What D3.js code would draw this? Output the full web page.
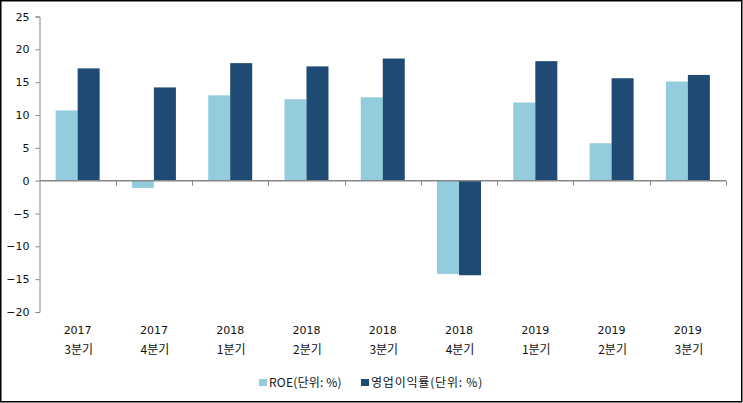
<!DOCTYPE html>
<html>
<head>
<meta charset="utf-8">
<script src="https://cdn.jsdelivr.net/npm/d3@7"></script>
<style>
  body { margin: 0; background: #fff; }
  svg { display: block; }
  text { font-family: "DejaVu Sans", Verdana, "Noto Sans CJK KR", sans-serif; font-size: 11px; fill: #111; }
</style>
</head>
<body>
<svg id="chart" width="743" height="403"></svg>
<script>
// 분기 (연도 / 분기)
var years = ['2017', '2017', '2018', '2018', '2018', '2018', '2019', '2019', '2019'];
var quarters = ['3분기', '4분기', '1분기', '2분기', '3분기', '4분기', '1분기', '2분기', '3분기'];

// 시리즈 값
var roe = [10.7, -1.1, 13.0, 12.4, 12.7, -14.2, 11.9, 5.7, 15.1];
var opMargin = [17.1, 14.2, 17.9, 17.4, 18.6, -14.4, 18.2, 15.6, 16.1];

var seriesNames = ['ROE(단위: %)', '영업이익률(단위: %)'];
var seriesColors = ['#93CDDD', '#1F4A74'];
var yTicks = [25, 20, 15, 10, 5, 0, -5, -10, -15, -20];

var svg = d3.select('#chart');

// 테두리
svg.append('rect')
  .attr('x', 0.75).attr('y', 0.75)
  .attr('width', 741).attr('height', 401)
  .attr('fill', 'none').attr('stroke', '#000').attr('stroke-width', 1.5);

// 플롯 영역 (window.top 과 겹치지 않게 이름 변경)
var plotLeft = 39.5, plotRight = 726, plotTop = 16.5, plotBottom = 312;

var x = d3.scaleBand()
  .domain(d3.range(years.length))
  .range([plotLeft, plotRight]);

var y = d3.scaleLinear()
  .domain([-20, 25])
  .range([plotBottom, plotTop]);

var axisColor = '#868686';

// y 축
var yAxis = svg.append('g')
  .attr('transform', 'translate(' + plotLeft + ',0)')
  .call(d3.axisLeft(y).tickValues(yTicks).tickSize(4).tickPadding(6));
yAxis.select('.domain').attr('stroke', axisColor);
yAxis.selectAll('.tick line').attr('stroke', axisColor);
yAxis.selectAll('.tick text')
  .style('font-family', '"DejaVu Sans", Verdana, sans-serif')
  .style('font-size', '11px')
  .attr('fill', '#111');

// 막대
var barW = 22;
var data = years.map(function(d, i) { return [roe[i], opMargin[i]]; });

var groups = svg.selectAll('.grp')
  .data(data)
  .enter().append('g')
  .attr('class', 'grp');

groups.selectAll('rect')
  .data(function(d, i) { return d.map(function(v, k) { return {i: i, k: k, v: v}; }); })
  .enter().append('rect')
  .attr('x', function(d) { return x(d.i) + x.bandwidth() / 2 - barW + d.k * barW; })
  .attr('y', function(d) { return y(Math.max(0, d.v)); })
  .attr('width', barW)
  .attr('height', function(d) { return Math.abs(y(d.v) - y(0)); })
  .attr('fill', function(d) { return seriesColors[d.k]; });

// x 축 (0 기준선)
svg.append('line')
  .attr('x1', plotLeft).attr('x2', plotRight)
  .attr('y1', y(0)).attr('y2', y(0))
  .attr('stroke', axisColor).attr('stroke-width', 1.5);

svg.selectAll('.xtick')
  .data(d3.range(1, years.length + 1))
  .enter().append('line')
  .attr('x1', function(i) { return Math.round(plotLeft + i * x.step()) + 0.5; })
  .attr('x2', function(i) { return Math.round(plotLeft + i * x.step()) + 0.5; })
  .attr('y1', y(0)).attr('y2', y(0) + 5)
  .attr('stroke', axisColor).attr('stroke-width', 1);

// 카테고리 라벨
svg.selectAll('.year')
  .data(years)
  .enter().append('text')
  .attr('x', function(d, i) { return x(i) + x.bandwidth() / 2; })
  .attr('y', 334)
  .attr('text-anchor', 'middle')
  .text(function(d) { return d; });

svg.selectAll('.qtr')
  .data(quarters)
  .enter().append('text')
  .attr('x', function(d, i) { return x(i) + x.bandwidth() / 2 + 1; })
  .attr('y', 354)
  .attr('text-anchor', 'middle')
  .style('font-family', '"Noto Sans CJK KR", sans-serif')
  .style('font-size', '12px')
  .text(function(d) { return d; });

// 범례
var legendX = [259, 361];
var legend = svg.selectAll('.legend')
  .data(seriesNames)
  .enter().append('g')
  .attr('transform', function(d, i) { return 'translate(' + legendX[i] + ',382)'; });

legend.append('rect')
  .attr('x', 0).attr('y', -3)
  .attr('width', 8).attr('height', 7)
  .attr('fill', function(d, i) { return seriesColors[i]; });

legend.append('text')
  .attr('x', 10).attr('y', 4.5)
  .style('font-family', '"Noto Sans CJK KR", sans-serif')
  .style('font-size', '12px')
  .style('letter-spacing', function(d, i) { return i ? '0.8px' : '0.2px'; })
  .text(function(d) { return d; });
</script>
</body>
</html>
